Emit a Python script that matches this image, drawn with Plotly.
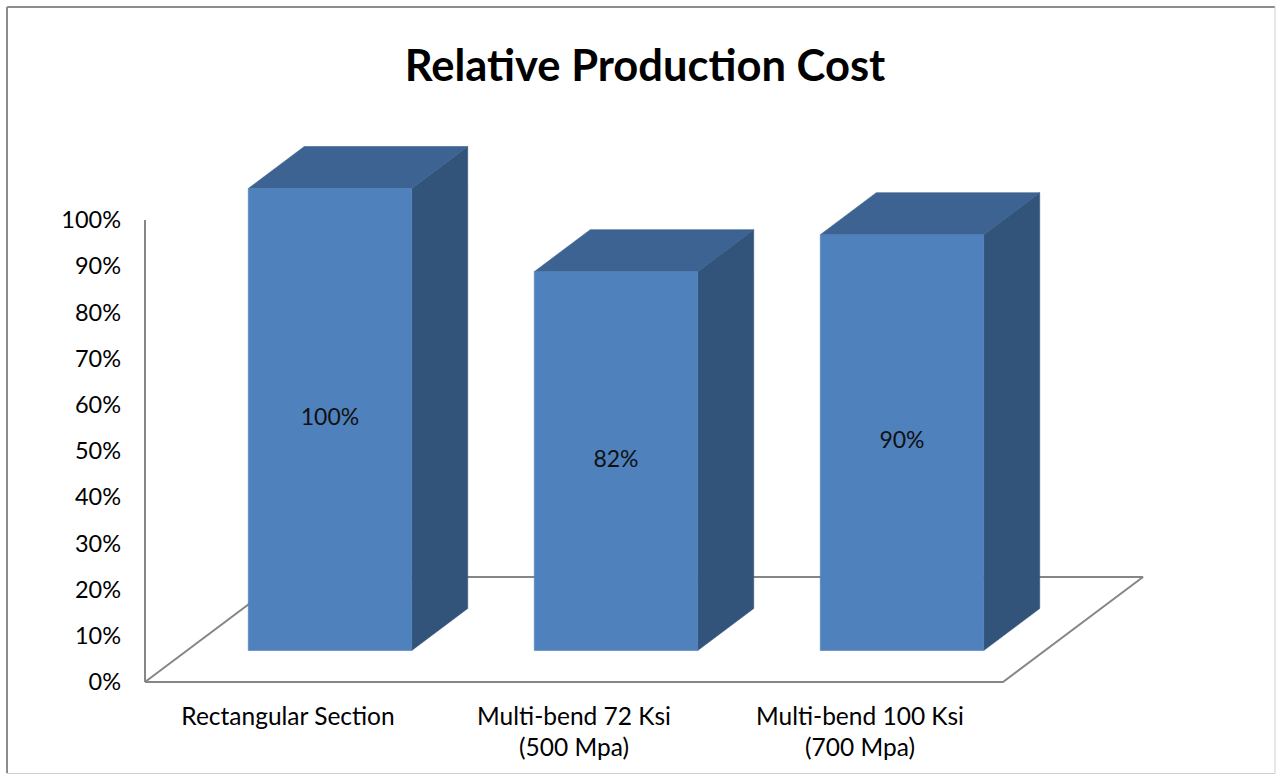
import plotly.graph_objects as go

# ---- data ----
categories = ["Rectangular Section",
              "Multi-bend 72 Ksi<br>(500 Mpa)",
              "Multi-bend 100 Ksi<br>(700 Mpa)"]
cost_pct = [100, 82, 90]
y_tick_vals = [0, 10, 20, 30, 40, 50, 60, 70, 80, 90, 100]
y_tick_text = [f"{v}%" for v in y_tick_vals]
bar_labels = [f"{v}%" for v in cost_pct]

# ---- canvas / projection settings ----
W, H = 1278, 775
ORIGIN_X_PX, CAT_PX = 145, 286      # front-plane origin and category width in pixels
ORIGIN_Y_PX, PCT_PX = 682, 4.62     # front-plane 0% and pixels per percent
DEPTH_PX = (140, 105)               # oblique offset of the full floor depth (right, up)

# depth offset expressed in axis units
DX = DEPTH_PX[0] / CAT_PX
DY = DEPTH_PX[1] / PCT_PX

BAR_W = 1 / 1.75                    # 75% gap width
Z_FRONT, Z_BACK = 0.3, 0.7          # bar depth span within the floor

FRONT = "#4F81BD"
TOP = "#3C6391"
SIDE = "#32547B"
EDGE = "#868686"
FONT = "Lato"

x_range = [-ORIGIN_X_PX / CAT_PX, (W - ORIGIN_X_PX) / CAT_PX]
y_range = [(ORIGIN_Y_PX - H) / PCT_PX, ORIGIN_Y_PX / PCT_PX]

n = len(categories)
fig = go.Figure()

# floor outline
fx = [0, n, n + DX, DX, 0]
fy = [0, 0, DY, DY, 0]
fig.add_trace(go.Scatter(x=fx, y=fy, mode="lines",
                         line=dict(color=EDGE, width=2), hoverinfo="skip"))
# vertical value axis line
fig.add_trace(go.Scatter(x=[0, 0], y=[0, y_tick_vals[-1]], mode="lines",
                         line=dict(color=EDGE, width=2), hoverinfo="skip"))


def face(xs, ys, color):
    fig.add_trace(go.Scatter(x=xs + [xs[0]], y=ys + [ys[0]], mode="lines",
                             fill="toself", fillcolor=color,
                             line=dict(color=color, width=0.6),
                             hoverinfo="skip"))


lx, ly = [], []
for i, v in enumerate(cost_pct):
    x0 = i + 0.5 - BAR_W / 2 + Z_FRONT * DX
    x1 = x0 + BAR_W
    yb = Z_FRONT * DY
    yt = v + Z_FRONT * DY
    ddx = (Z_BACK - Z_FRONT) * DX
    ddy = (Z_BACK - Z_FRONT) * DY
    # right side
    face([x1, x1, x1 + ddx, x1 + ddx], [yb, yt, yt + ddy, yb + ddy], SIDE)
    # top
    face([x0, x1, x1 + ddx, x0 + ddx], [yt, yt, yt + ddy, yt + ddy], TOP)
    # front
    face([x0, x1, x1, x0], [yb, yb, yt, yt], FRONT)
    lx.append((x0 + x1) / 2)
    ly.append((yb + yt) / 2)

fig.add_trace(go.Scatter(x=lx, y=ly, mode="text", text=bar_labels,
                         textposition="middle center",
                         textfont=dict(family=FONT, size=23, color="#111111"),
                         hoverinfo="skip"))

# chart frame
fig.add_shape(type="line", xref="paper", yref="paper",
              x0=7 / W, x1=7 / W, y0=1 - 7 / H, y1=1 - 773 / H,
              line=dict(color="#8C8C8C", width=2))
fig.add_shape(type="line", xref="paper", yref="paper",
              x0=7 / W, x1=1275 / W, y0=1 - 7 / H, y1=1 - 7 / H,
              line=dict(color="#8C8C8C", width=2))
fig.add_shape(type="line", xref="paper", yref="paper",
              x0=7 / W, x1=1275 / W, y0=1 - 773.5 / H, y1=1 - 773.5 / H,
              line=dict(color="#CFCFCF", width=1))
fig.add_shape(type="line", xref="paper", yref="paper",
              x0=1275 / W, x1=1275 / W, y0=1 - 7 / H, y1=1 - 773.5 / H,
              line=dict(color="#CFCFCF", width=1))

fig.update_layout(
    width=W, height=H,
    margin=dict(l=0, r=0, t=0, b=0),
    paper_bgcolor="white", plot_bgcolor="white",
    showlegend=False,
    title=dict(text="<b>Relative Production Cost</b>",
               x=645 / W, xanchor="center",
               y=1 - 66 / H, yanchor="middle", yref="container",
               font=dict(family=FONT, size=43.5, color="black")),
    xaxis=dict(range=x_range, domain=[0, 1], anchor="free",
               position=(H - ORIGIN_Y_PX) / H,
               tickvals=[i + 0.5 for i in range(n)], ticktext=categories,
               showgrid=False, zeroline=False, showline=False, ticks="",
               ticklabelstandoff=17,
               tickfont=dict(family=FONT, size=24.5, color="black")),
    yaxis=dict(range=y_range, domain=[0, 1], anchor="free",
               position=ORIGIN_X_PX / W,
               tickvals=y_tick_vals, ticktext=y_tick_text,
               showgrid=False, zeroline=False, showline=False, ticks="",
               ticklabelstandoff=24,
               tickfont=dict(family=FONT, size=23.5, color="black")),
)

fig.write_html("out.html")
